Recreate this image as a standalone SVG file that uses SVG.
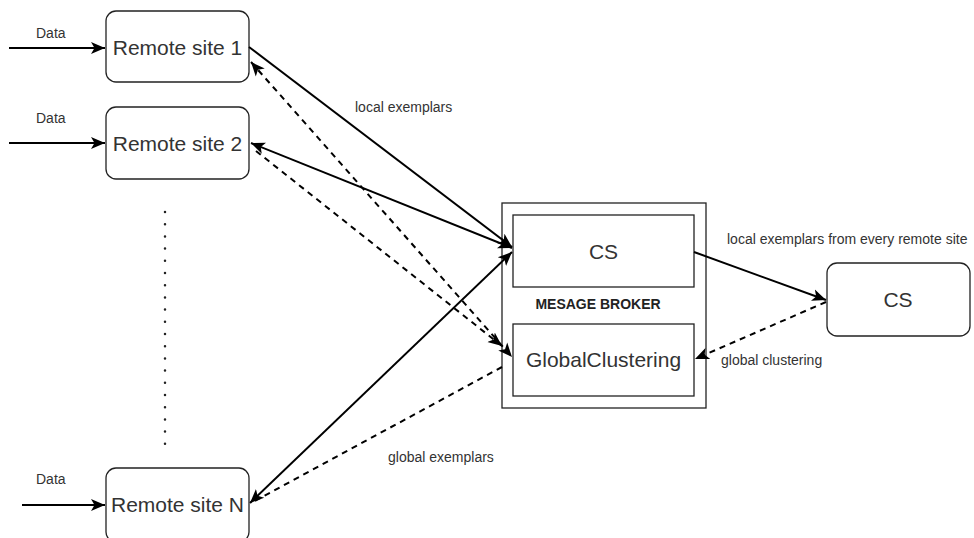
<svg xmlns="http://www.w3.org/2000/svg" width="974" height="538" viewBox="0 0 974 538">
<style>
.box{fill:#fff;stroke:#222;stroke-width:1.3}
.big{font-family:"Liberation Sans",Arial,sans-serif;font-size:21px;fill:#333;text-anchor:middle}
.small{font-family:"Liberation Sans",Arial,sans-serif;font-size:14px;fill:#333}
.bold{font-family:"Liberation Sans",Arial,sans-serif;font-size:14px;font-weight:bold;fill:#222;text-anchor:middle}
.solid{fill:none;stroke:#000;stroke-width:2}
.dash{fill:none;stroke:#000;stroke-width:2;stroke-dasharray:6 5}
</style>
<defs>
<marker id="ah" markerUnits="userSpaceOnUse" markerWidth="16" markerHeight="14" refX="14" refY="6" orient="auto-start-reverse" viewBox="0 0 16 12">
<path d="M0,0 L14,6 L0,12 L3.5,6 z" fill="#000"/>
</marker>
</defs>
<rect width="974" height="538" fill="#fff"/>
<g id="site1"><rect class="box" x="106" y="11" width="143" height="71" rx="10"/><text class="big" x="177.5" y="55">Remote site 1</text></g>
<g id="site2"><rect class="box" x="106" y="107" width="143" height="72" rx="10"/><text class="big" x="177.5" y="151">Remote site 2</text></g>
<g id="siteN"><rect class="box" x="106" y="468" width="143" height="74" rx="10"/><text class="big" x="177.5" y="512">Remote site N</text></g>
<g id="broker"><rect class="box" x="502" y="203" width="204" height="205"/><text class="bold" x="598" y="309">MESAGE BROKER</text></g>
<g id="cs-inner"><rect class="box" x="513" y="215" width="181" height="72"/><text class="big" x="603.5" y="259">CS</text></g>
<g id="global-clustering"><rect class="box" x="513" y="324" width="181" height="72"/><text class="big" x="603.5" y="367">GlobalClustering</text></g>
<g id="cs-right"><rect class="box" x="827" y="263" width="143" height="73" rx="10"/><text class="big" x="898" y="307">CS</text></g>
<g id="dots"><line x1="165" y1="212" x2="165" y2="444" stroke="#222" stroke-width="2.5" stroke-linecap="round" stroke-dasharray="0 12.2"/></g>
<g id="connectors">
<line class="solid" x1="9" y1="48" x2="105" y2="48" marker-end="url(#ah)"/>
<line class="solid" x1="9" y1="143" x2="105" y2="143" marker-end="url(#ah)"/>
<line class="solid" x1="22" y1="505" x2="105" y2="505" marker-end="url(#ah)"/>
<line class="solid" x1="249" y1="47" x2="512" y2="247" marker-end="url(#ah)"/>
<line class="solid" x1="251" y1="143" x2="512" y2="248" marker-start="url(#ah)" marker-end="url(#ah)"/>
<line class="solid" x1="250" y1="503" x2="512" y2="252" marker-start="url(#ah)" marker-end="url(#ah)"/>
<line class="dash" x1="251" y1="62" x2="512" y2="357" marker-start="url(#ah)" marker-end="url(#ah)"/>
<line class="dash" x1="256" y1="151" x2="502" y2="346" marker-end="url(#ah)"/>
<line class="dash" x1="502" y1="367" x2="251" y2="503"/>
<line class="solid" x1="694" y1="252" x2="826" y2="300" marker-end="url(#ah)"/>
<line class="dash" x1="826" y1="302" x2="695" y2="359" marker-end="url(#ah)"/>
</g>
<g id="labels">
<text class="small" x="36" y="38">Data</text>
<text class="small" x="36" y="123">Data</text>
<text class="small" x="36" y="484">Data</text>
<text class="small" x="355" y="112">local exemplars</text>
<text class="small" x="727" y="244">local exemplars from every remote site</text>
<text class="small" x="721" y="365">global clustering</text>
<text class="small" x="388" y="462">global exemplars</text>
</g>
</svg>
